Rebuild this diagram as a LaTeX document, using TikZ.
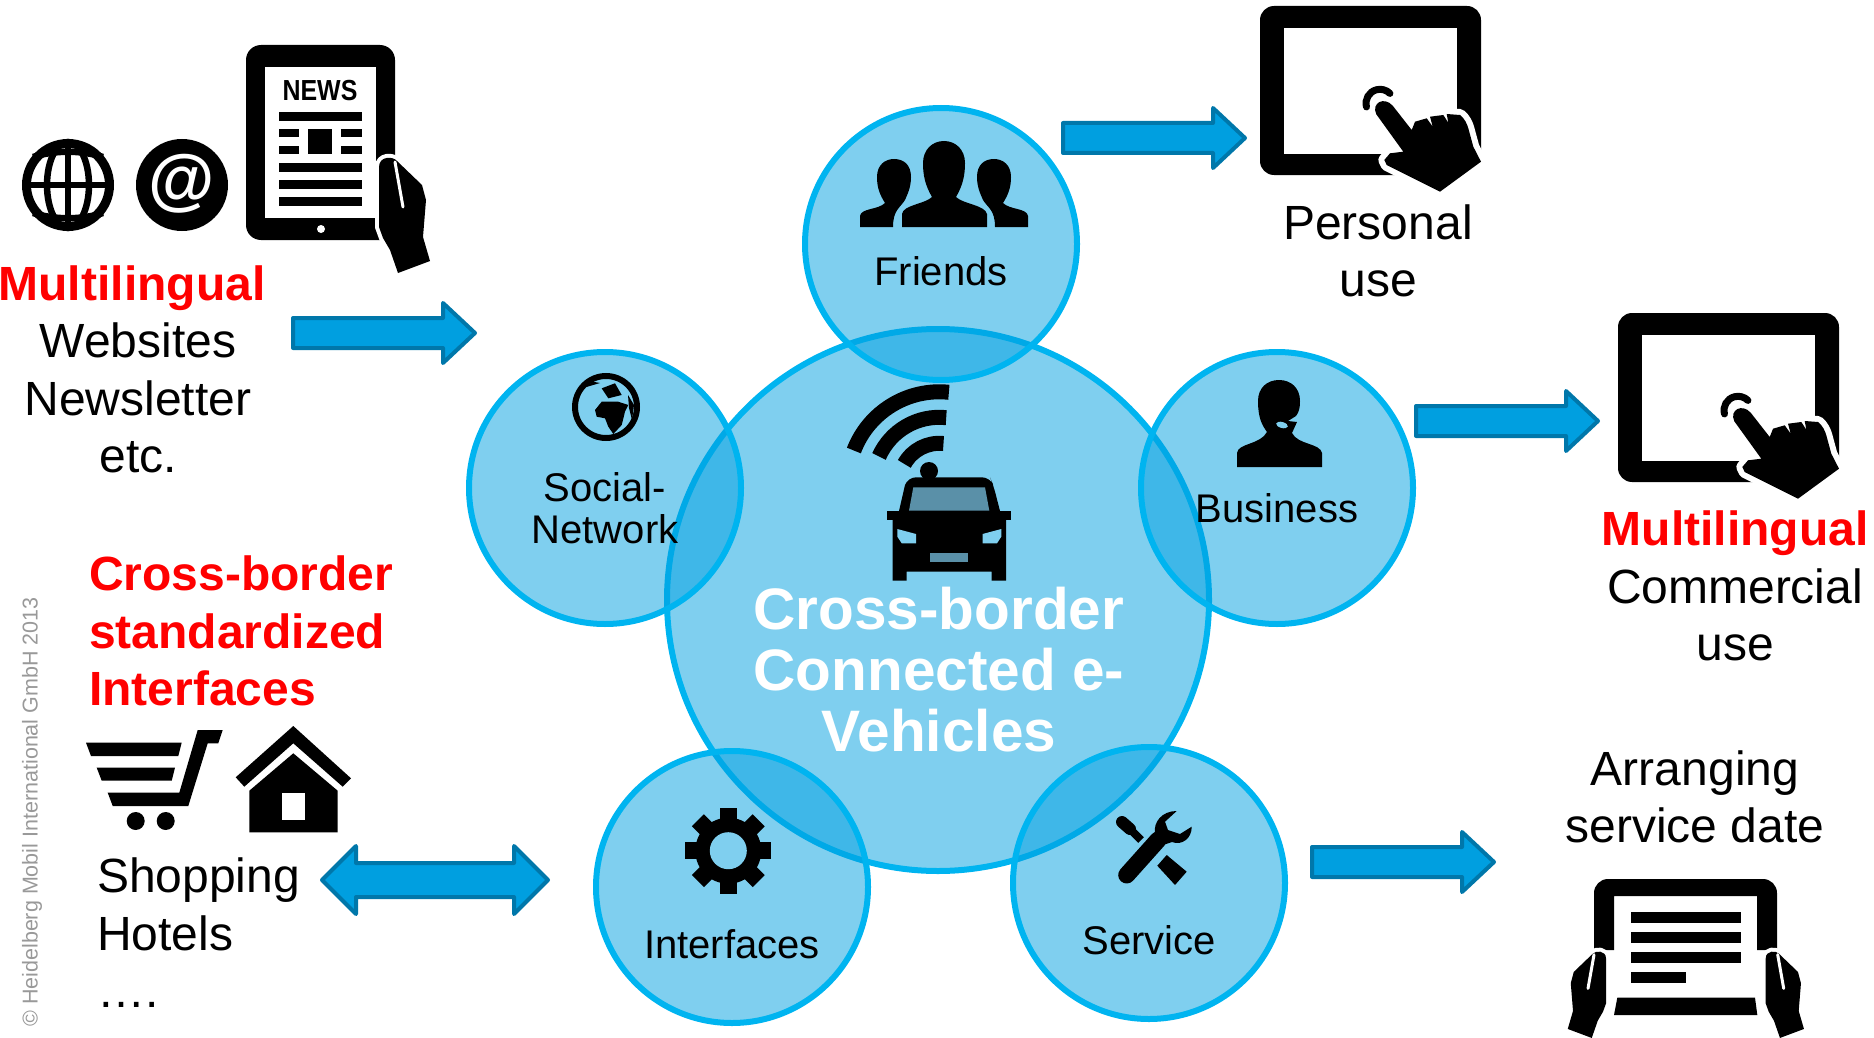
\documentclass[tikz,border=0pt]{standalone}
\usepackage{fontspec}
\setmainfont{Liberation Sans}

\definecolor{bubblefill}{HTML}{00A0E0}
\definecolor{bubbleedge}{HTML}{00B4F0}
\definecolor{bubbleplain}{HTML}{7FCFEF}
\definecolor{arrowfill}{HTML}{009FE0}
\definecolor{arrowedge}{HTML}{0077AA}
\definecolor{carglass}{HTML}{5A90A8}

\tikzset{
    bubble/.style={circle, draw=bubbleedge, line width=6, fill=bubblefill, fill opacity=0.5, draw opacity=1, minimum size=272, inner sep=0},
    blockarrow/.style={draw=arrowedge, fill=arrowfill, line width=4, line join=round},
    bodytext/.style={font=\fontsize{48}{57.5}\selectfont, align=center, inner sep=0},
    redtext/.style={font=\fontsize{48}{57.5}\selectfont\bfseries, text=red, align=left, inner sep=0},
    bubbletext/.style={font=\fontsize{40}{42}\selectfont, align=center, inner sep=0},
    holdhand/.pic={
        \fill[black, preaction={draw=white, line width=8, line join=round}]
            (10,3) .. controls (6,-2) and (-8,-2) .. (-8,9) -- (-8,69) -- (-4,80) -- (3,92) -- (11,115)
            -- (43,103) -- (36,79) -- (39,42) -- (35,27) -- cycle;
        \draw[white, line width=3, line cap=round] (8,4) -- (16,49);
    },
    touchtablet/.pic={
        \fill[black, rounded corners=14] (0,0) rectangle (221,169);
        \fill[white] (24,22) rectangle (197,148);
        \fill[black, preaction={draw=white, line width=12, line join=round}]
            (116.3,108.3) .. controls (111,97) and (124,90) .. (132.7,99.7) -- (151.7,124) -- (155,115.7)
            -- (166.7,112.3) -- (172.7,120.7) -- (170,110.7) -- (183.3,109) -- (188.3,116.7) -- (186.7,108)
            -- (200,109) .. controls (205,113) and (207,118) .. (208.3,122.3) -- (213.3,140.7) -- (221,155.7)
            -- (180,185.7) -- (126.7,159) -- (124.3,154) -- (130,147.3) -- (143.3,145.7) -- cycle;
        \draw[black, line width=7, line cap=round] (120,97.3) ++(165:14) arc (165:315:14);
    }
}

\begin{document}
\begin{tikzpicture}[x=1pt, y=-1pt]
    \useasboundingbox (0,0) rectangle (1874,1038);

    % Circles
    \node[bubble, minimum size=542] (hub) at (938,600) {};
    \foreach \name/\cx/\cy in {friends/941/244, social/605/488, business/1277/488, interfaces/732/887, service/1149/883} {
        \node[bubble] (\name) at (\cx,\cy) {};
    }

    % Block arrows
    \foreach \tailx/\tipx/\midy in {293/475/333, 1063/1245/138, 1416/1598/421, 1312/1494/862} {
        \draw[blockarrow] (\tailx,\midy-15) -- (\tipx-32,\midy-15) -- (\tipx-32,\midy-30) -- (\tipx,\midy)
            -- (\tipx-32,\midy+30) -- (\tipx-32,\midy+15) -- (\tailx,\midy+15) -- cycle;
    }
    \draw[blockarrow] (322,880) -- (356,846) -- (356,863) -- (514,863) -- (514,846) -- (548,880)
        -- (514,914) -- (514,897) -- (356,897) -- (356,914) -- cycle;

    % Web globe and at sign
    \fill[white] (68,185) circle (44);
    \draw[black, line width=9] (68,185) circle (41.5);
    \draw[black, line width=6.5] (68,141) -- (68,229);
    \draw[black, line width=6.5] (24,185) -- (112,185);
    \draw[black, line width=6.5] (68,185) ellipse [x radius=21, y radius=43];
    \draw[black, line width=6.5] (33,157) .. controls (55,150) and (81,150) .. (103,157);
    \draw[black, line width=6.5] (33,213) .. controls (55,220) and (81,220) .. (103,213);
    \fill[black] (182,185) circle (46);
    \node[font=\fontsize{68}{68}\selectfont\bfseries, text=white, inner sep=0] (atsign) at (182,184) {@};

    % News tablet
    \fill[black, rounded corners=15] (246,45) rectangle (395,240);
    \fill[white] (265,67) rectangle (376,218);
    \fill[white] (321,229) circle (4);
    \node[font=\fontsize{29}{29}\selectfont\bfseries, xscale=0.86, inner sep=0] (newstitle) at (320,91) {NEWS};
    \foreach \rowy in {112,163,180,197} {
        \fill[black] (279,\rowy) rectangle (362,\rowy+9);
    }
    \foreach \rowy in {129,146} {
        \fill[black] (279,\rowy) rectangle (299,\rowy+8);
        \fill[black] (341,\rowy) rectangle (362,\rowy+8);
    }
    \fill[black] (308,129) rectangle (332,154);
    \pic at (387,158) {holdhand};

    % Touch tablets
    \pic at (1260,6) {touchtablet};
    \pic at (1618,313) {touchtablet};

    % Reading tablet
    \fill[black] (1594,950) [rounded corners=14] -- (1594,879) -- (1777,879) [sharp corners] -- (1777,950) -- (1757,950)
        -- (1757,896) -- (1614,896) -- (1614,950) -- cycle;
    \foreach \rowy in {911.7,931.7,951.7} {
        \fill[black] (1631.3,\rowy) rectangle (1740.7,\rowy+11);
    }
    \fill[black] (1631.3,971.7) rectangle (1686,983.3);
    \fill[black] (1617.3,997.7) -- (1755,997.7) -- (1757.3,1015) -- (1614,1015) -- cycle;
    \pic[scale=0.75] at (1771.7,951.7) {holdhand};
    \pic[xscale=-0.75, yscale=0.75] at (1600,951.7) {holdhand};

    % Cart
    \fill[black] (86,742.7) -- (181.7,742.7) -- (178.3,756) -- (91,756) -- cycle;
    \fill[black] (96.7,767.7) -- (175,767.7) -- (171.7,780.7) -- (101.7,780.7) -- cycle;
    \fill[black] (107.7,792.7) -- (179.3,792.7) -- (197.7,730) -- (222.7,730) -- (218.3,743.3)
        -- (207.7,743.3) -- (188.3,806) -- (112.7,806) -- cycle;
    \fill[black] (135.7,821) circle (9);
    \fill[black] (165.7,821) circle (9);

    % House
    \fill[black] (293.3,726) -- (351,778.3) -- (342.7,786.7) -- (293.3,743.3) -- (244.3,786.7) -- (235.7,777.3) -- cycle;
    \fill[black] (293.3,753.3) -- (337.7,790.7) -- (337.7,832.3) -- (249.3,832.3) -- (249.3,790.7) -- cycle;
    \fill[white] (282.3,793.3) rectangle (305,820);

    % Friends
    \fill[black] (902,227) -- (902,214) .. controls (903,205) and (925,204) .. (932,197)
        .. controls (925,185) and (923,175) .. (923,163) .. controls (923,150) and (932,141) .. (944,141)
        .. controls (956,141) and (965,150) .. (965,163) .. controls (965,175) and (963,185) .. (956,197)
        .. controls (963,204) and (985,205) .. (987,214) -- (987,227) -- cycle;
    \fill[black] (860,227) -- (860,216) .. controls (861,208) and (878,210) .. (885,203)
        .. controls (880,195) and (877,188) .. (877,177) .. controls (877,165) and (885,159) .. (894,159)
        .. controls (904,159) and (911,165) .. (911,177) .. controls (911,188) and (907,195) .. (905,200)
        .. controls (900,208) and (893,210) .. (893,227) -- cycle;
    \fill[black] (1028,227) -- (1028,216) .. controls (1027,208) and (1010,210) .. (1003,203)
        .. controls (1008,195) and (1011,188) .. (1011,177) .. controls (1011,165) and (1003,159) .. (994,159)
        .. controls (984,159) and (977,165) .. (977,177) .. controls (977,188) and (981,195) .. (983,200)
        .. controls (988,208) and (995,210) .. (995,227) -- cycle;

    % Earth
    \draw[black, line width=6] (606,407) circle (31);
    \fill[black] (595,410) -- (601.7,401.7) -- (618.3,401.7) -- (628.3,405) -- (625,411.7) -- (621.7,425)
        -- (613.3,434) -- (608.3,426.7) -- (605,418.3) -- (596.7,416.7) -- cycle;
    \fill[black] (601.7,388.3) -- (615,383.3) -- (621.7,395) -- (608.3,398.3) -- cycle;
    \fill[black] (583,388) -- (600,383) -- (593,381.7) -- cycle;
    \fill[black] (628,395) -- (634,405) -- (632,420) -- (629,408) -- cycle;

    % Business
    \fill[black] (1237,467) -- (1237,453) .. controls (1238,443) and (1260,445) .. (1267,432)
        .. controls (1262,425) and (1258,418) .. (1258,401) .. controls (1258,388) and (1267,380) .. (1279,380)
        .. controls (1291,380) and (1300,388) .. (1300,401) .. controls (1300,408) and (1299,412) .. (1296,416)
        -- (1288,421) -- (1297,422) -- (1292,433) .. controls (1298,445) and (1320,443) .. (1322,453) -- (1322,467) -- cycle;
    \fill[bubbleplain, rotate around={-15:(1282,425)}] (1282,425) ellipse [x radius=6, y radius=3];

    % Car
    \foreach \radius/\starta in {91.5/-159, 66/-156, 40/-151} {
        \draw[black, line width=15] (939.3,483.3) ++(\starta:\radius) arc (\starta:-84:\radius);
    }
    \fill[black] (929,471) circle (9);
    \fill[black] (899,511) -- (905,485) {[rounded corners=8] -- (908,477.3) -- (990,477.3) -- (993.3,485)} -- (1000,511) -- cycle;
    \fill[black] (887.3,510.7) rectangle (1010.7,520);
    \fill[black] (892.7,520) -- (892.7,580.7) -- (906.7,580.7) -- (906.7,571.7) -- (991.7,571.7)
        -- (991.7,580.7) -- (1006,580.7) -- (1006,520) -- cycle;
    \fill[carglass] (913.3,487.3) -- (985,487.3) -- (989.3,510.7) -- (909,510.7) -- cycle;
    \fill[carglass] (930,552.7) rectangle (968.3,562);
    \fill[bubbleplain] (897.3,529) -- (916,534) -- (916,543.3) -- (901.7,543.3) -- (897.3,536.7) -- cycle;
    \fill[bubbleplain] (1001.3,529) -- (982.6,534) -- (982.6,543.3) -- (997,543.3) -- (1001.3,536.7) -- cycle;

    % Gear
    \foreach \angle in {0,45,...,315} {
        \fill[black, rotate around={\angle:(728.3,850.7)}] (719.8,807.7) rectangle (736.8,830);
    }
    \fill[black] (728.3,850.7) circle (33);
    \fill[bubbleplain] (728.3,850.7) circle (18.5);

    % Tools
    \draw[black, line width=17, line cap=round] (1126.7,875) -- (1158,840);
    \fill[black] (1176.7,811) .. controls (1162,811) and (1153,822) .. (1155,834) -- (1160,846) -- (1172,842)
        .. controls (1182,846) and (1192,838) .. (1191.7,826.7) -- (1180,834) -- (1168,830) -- (1165,821.7) -- cycle;
    \draw[black, line width=12, line cap=round] (1122,822) -- (1130,829);
    \draw[black, line width=8] (1128,827) -- (1141,840);
    \fill[black] (1166.7,855) -- (1186.7,871.7) -- (1175,885) -- (1157.3,865.7) -- cycle;

    % Bubble labels
    \node[bubbletext] (friendstext) at (941,271) {Friends};
    \node[bubbletext] (socialtext) at (605,508) {Social-\\Network};
    \node[bubbletext] (businesstext) at (1277,508) {Business};
    \node[bubbletext] (interfacestext) at (732,944) {Interfaces};
    \node[bubbletext] (servicetext) at (1149,940) {Service};
    \node[font=\fontsize{58.5}{61}\selectfont\bfseries, text=white, align=center, inner sep=0] (hubtext) at (939,670) {Cross-border\\Connected e-\\Vehicles};

    % Outer texts
    \node[redtext] (webred) at (132,288) {Multilingual};
    \node[bodytext] (webtext) at (138,398) {Websites\\Newsletter\\etc.};
    \node[redtext, anchor=west] (borderred) at (89,631) {Cross-border\\standardized\\Interfaces};
    \node[bodytext, anchor=west, align=left] (shoptext) at (97,933) {Shopping\\Hotels\\….};
    \node[bodytext] (personaltext) at (1378,251) {Personal\\use};
    \node[bodytext] (commercialtext) at (1735,586) {{\color{red}\bfseries Multilingual}\\Commercial\\use};
    \node[bodytext] (datetext) at (1695,797) {Arranging\\service date};
    \node[font=\fontsize{21.5}{22}\selectfont, text=black!40, rotate=90, inner sep=0] (copyrighttext) at (32,812) {© Heidelberg Mobil International GmbH 2013};
\end{tikzpicture}
\end{document}
